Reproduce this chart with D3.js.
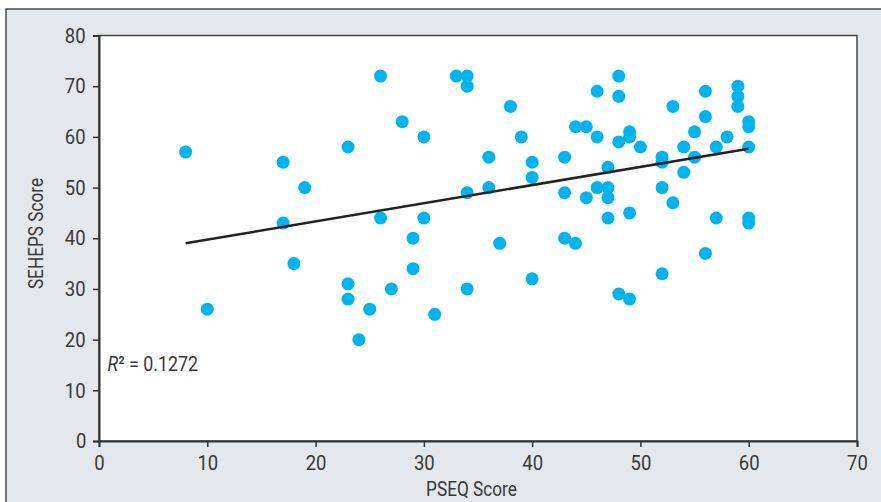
<!DOCTYPE html>
<html>
<head>
<meta charset="utf-8">
<script src="https://cdn.jsdelivr.net/npm/d3@7"></script>
<style>
  html, body { margin: 0; padding: 0; background: #fff; }
  text { font-family: "Roboto", "Liberation Sans", sans-serif; font-weight: 400; fill: #383838; }
  .cond { transform-box: fill-box; transform-origin: center; transform: scaleX(0.88); }
  .cond-title { transform-box: fill-box; transform-origin: center; transform: scaleX(0.82); }
  .cond-left { transform-box: fill-box; transform-origin: left center; transform: scaleX(0.85); }
</style>
</head>
<body>
<div id="chart"></div>
<script>
// Scatter: SEHEPS score vs PSEQ score with linear fit

const pseq = [8, 10, 17, 17, 18, 19, 23, 23, 23, 24, 25, 26, 26, 27, 28, 29, 29, 30, 30, 31,
  33, 34, 34, 34, 34, 36, 36, 37, 38, 39, 40, 40, 40, 43, 43, 43, 44, 44, 45, 45,
  46, 46, 46, 47, 47, 47, 47, 48, 48, 48, 48, 49, 49, 49, 49, 50, 52, 52, 52, 52,
  53, 53, 54, 54, 55, 55, 56, 56, 56, 57, 57, 58, 59, 59, 59, 60, 60, 60, 60, 60];
const seheps = [57, 26, 55, 43, 35, 50, 58, 31, 28, 20, 26, 72, 44, 30, 63, 40, 34, 60, 44, 25,
  72, 72, 70, 49, 30, 56, 50, 39, 66, 60, 55, 52, 32, 56, 49, 40, 62, 39, 62, 48,
  69, 60, 50, 54, 50, 48, 44, 72, 68, 59, 29, 61, 60, 45, 28, 58, 56, 55, 50, 33,
  66, 47, 58, 53, 61, 56, 69, 64, 37, 58, 44, 60, 70, 68, 66, 63, 62, 58, 44, 43];
const xTicks = [0, 10, 20, 30, 40, 50, 60, 70];
const yTicks = [0, 10, 20, 30, 40, 50, 60, 70, 80];
const rSquaredLabel = "0.1272";

const width = 881, height = 502;
const margin = { top: 35.5, right: 24, bottom: 61, left: 99 };

const svg = d3.select("#chart").append("svg")
  .attr("width", width)
  .attr("height", height);

// grey panel behind the chart
svg.append("rect")
  .attr("x", 6).attr("y", 9)
  .attr("width", width + 10).attr("height", height + 10)
  .attr("fill", "#e5e8eb")
  .attr("stroke", "#4a4a4a")
  .attr("stroke-width", 1.5);

const innerW = width - margin.left - margin.right;
const innerH = height - margin.top - margin.bottom;

const x = d3.scaleLinear().domain([0, 70]).range([margin.left, margin.left + innerW]);
const y = d3.scaleLinear().domain([0, 80]).range([margin.top + innerH, margin.top]);

// white plot area with thin frame
svg.append("rect")
  .attr("x", x(0)).attr("y", y(80))
  .attr("width", x(70) - x(0)).attr("height", y(0) - y(80))
  .attr("fill", "#fff")
  .attr("stroke", "#444")
  .attr("stroke-width", 1.5);

const xAxis = svg.append("g")
  .attr("transform", `translate(0,${y(0)})`)
  .call(d3.axisBottom(x).tickValues(xTicks).tickSize(6).tickPadding(8));
const yAxis = svg.append("g")
  .attr("transform", `translate(${x(0)},0)`)
  .call(d3.axisLeft(y).tickValues(yTicks).tickSize(6).tickPadding(6));

[xAxis, yAxis].forEach(a => {
  a.select(".domain").attr("stroke", "#333").attr("stroke-width", 2);
  a.selectAll(".tick line").attr("stroke", "#333").attr("stroke-width", 1.5);
  a.selectAll(".tick text")
    .attr("class", "cond")
    .style("font-size", "21px")
    .attr("fill", "#383838");
});

// points
const pts = pseq.map((v, i) => ({ x: v, y: seheps[i] }));
svg.append("g").selectAll("circle")
  .data(pts)
  .join("circle")
  .attr("cx", d => x(d.x))
  .attr("cy", d => y(d.y))
  .attr("r", 6.5)
  .attr("fill", "#00b5ef");

// least squares fit
const mx = d3.mean(pts, d => d.x), my = d3.mean(pts, d => d.y);
const slope = d3.sum(pts, d => (d.x - mx) * (d.y - my)) / d3.sum(pts, d => (d.x - mx) ** 2);
const intercept = my - slope * mx;
const [x0, x1] = d3.extent(pseq);
svg.append("line")
  .attr("x1", x(x0)).attr("y1", y(intercept + slope * x0))
  .attr("x2", x(x1)).attr("y2", y(intercept + slope * x1))
  .attr("stroke", "#222")
  .attr("stroke-width", 2.5);

// R squared note
const r2 = svg.append("text")
  .attr("class", "cond-left")
  .attr("x", 107.5)
  .attr("y", 371)
  .style("font-size", "21px");
r2.append("tspan").style("font-style", "italic").text("R");
r2.append("tspan").text("\u00b2 = " + rSquaredLabel);

// axis titles
svg.append("text")
  .attr("class", "cond-title")
  .attr("x", 471.5)
  .attr("y", 496.5)
  .attr("text-anchor", "middle")
  .style("font-size", "21px")
  .text("PSEQ Score");

svg.append("g")
  .attr("transform", "translate(43,233.5) rotate(-90)")
  .append("text")
  .attr("class", "cond-title")
  .attr("text-anchor", "middle")
  .style("font-size", "21px")
  .text("SEHEPS Score");
</script>
</body>
</html>
